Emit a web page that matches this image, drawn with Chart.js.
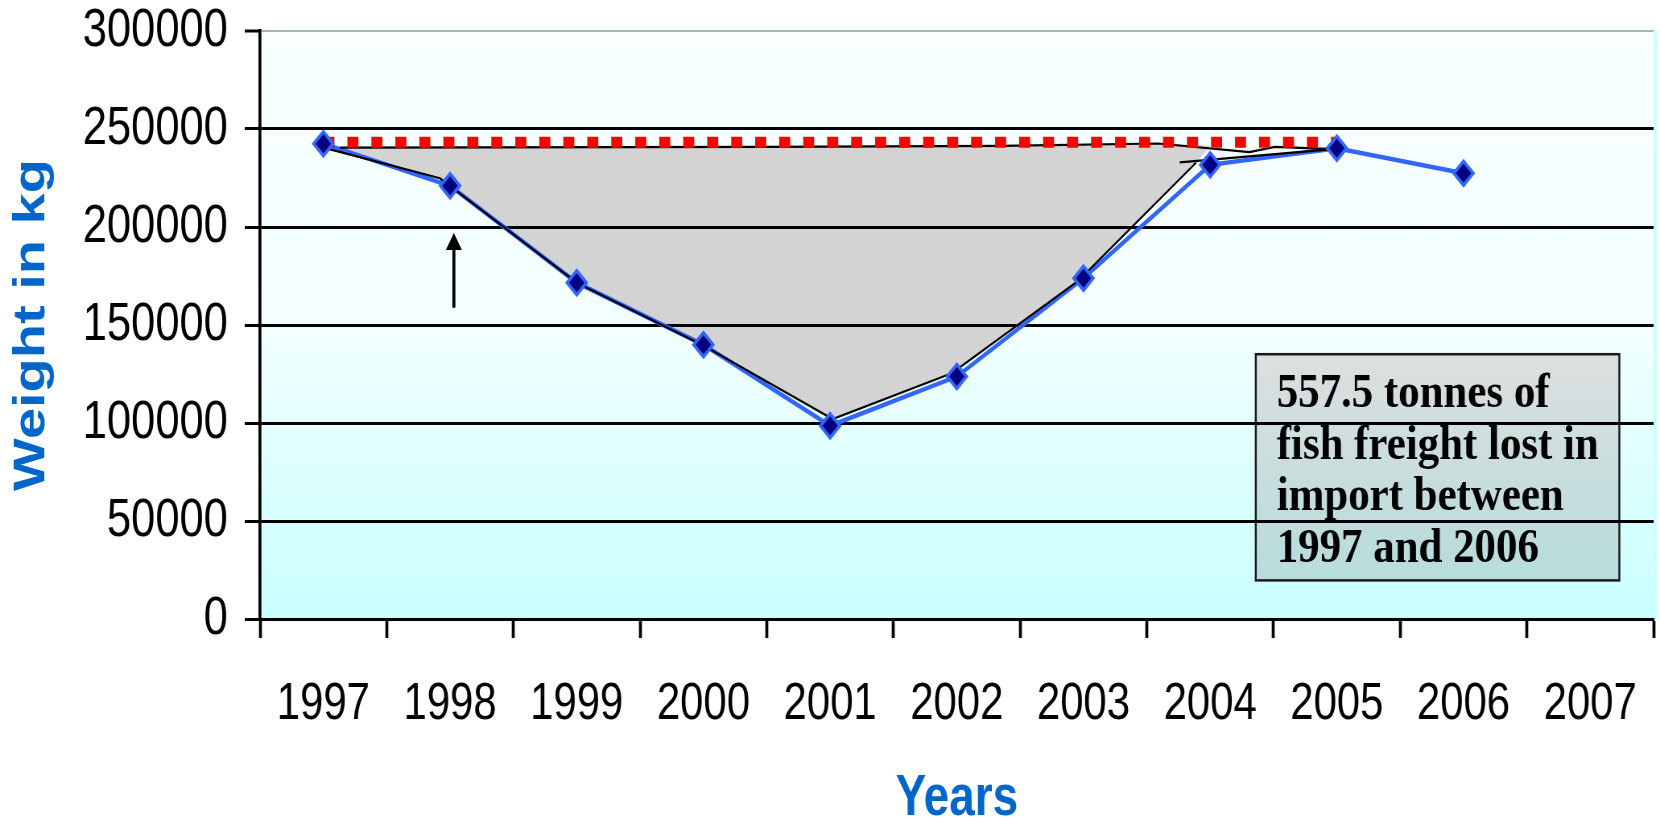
<!DOCTYPE html>
<html>
<head>
<meta charset="utf-8">
<script src="https://cdn.jsdelivr.net/npm/chart.js@4.4.0/dist/chart.umd.min.js"></script>
<style>
  html, body { margin: 0; padding: 0; background: #fff; overflow: hidden; }
  /* the original figure is horizontally compressed, so draw wide and squeeze */
  #wrap { width: 2062px; height: 819px; transform: scaleX(0.80504); transform-origin: 0 0; }
</style>
</head>
<body>
<div id="wrap"><canvas id="fishChart" width="2062" height="819"></canvas></div>
<script>
// categories and series
const years = ["1997", "1998", "1999", "2000", "2001", "2002", "2003", "2004", "2005", "2006", "2007"];
const weights = [242500, 221000, 171600, 139900, 98600, 123700, 173900, 231700, 240200, 227400];
const referenceLevel = [243200, 243200, 243200, 243200, 243200, 243200, 243200, 243200, 243200];
const yTicks = [0, 50000, 100000, 150000, 200000, 250000, 300000];

// hand drawn "lost freight" area, x in category units (0 = 1997)
const lossLowerX = [0, 0.92, 2, 3, 4.02, 4.96, 5.96, 6.89, 7.0];
const lossLowerY = [240500, 224900, 171600, 139500, 102000, 125400, 172600, 232900, 241500];
const lossUpperX = [0, 0.13, 3.5, 5.34, 6.59, 7.0];
const lossUpperY = [240500, 240500, 240900, 241400, 242600, 241500];

// black outline around the area (null = pen lifted)
const outlineX = [0, 0.92, 2, 3, 4.02, 4.96, 5.96, 6.89, 6.9, 0.13, 3.5, 5.34, 6.59, 7.31, 7.51, 7.97, 7.98, 6.76, 7.97];
const outlineY = [240500, 224900, 171600, 139500, 102000, 125400, 172600, 232900, null, 240500, 240900, 241400, 242600, 238200, 240900, 239700, null, 233000, 239700];

// note and arrow
const noteLines = ["557.5 tonnes of", "fish freight lost in", "import between", "1997 and 2006"];
const noteBox = { x0: 7.36, x1: 10.23, yTop: 135100, yBottom: 19700 };
const arrow = { x: 1.03, from: 158800, to: 197000 };

const sans = "'Liberation Sans', Arial, sans-serif";

const toPoints = (xs, ys) => xs.map((x, i) => ({ x: x, y: ys[i] }));

// plot background + note box (under the gridlines)
const notePlugin = {
    id: "note",
    beforeDraw(chart) {
        const { ctx, chartArea } = chart;
        const xs = chart.scales.x2;
        const ys = chart.scales.y;

        // paint behind what the filler already drew
        ctx.save();
        ctx.globalCompositeOperation = "destination-over";
        const bg = ctx.createLinearGradient(0, chartArea.top, 0, chartArea.bottom);
        bg.addColorStop(0, "#f9ffff");
        bg.addColorStop(0.5, "#f3ffff");
        bg.addColorStop(1, "#c9ffff");
        ctx.fillStyle = bg;
        ctx.fillRect(chartArea.left, chartArea.top - 2, chartArea.width + 4, chartArea.height + 2);
        ctx.restore();

        ctx.save();
        ctx.fillStyle = "#c9ffff";
        ctx.fillRect(chartArea.right, chartArea.top - 2, 4, chartArea.height + 2);

        const left = xs.getPixelForValue(noteBox.x0);
        const right = xs.getPixelForValue(noteBox.x1);
        const top = ys.getPixelForValue(noteBox.yTop);
        const bottom = ys.getPixelForValue(noteBox.yBottom);
        const g = ctx.createLinearGradient(0, top, 0, bottom);
        g.addColorStop(0, "#dddfdf");
        g.addColorStop(1, "#b7dcdc");
        ctx.fillStyle = g;
        ctx.fillRect(left, top, right - left, bottom - top);
        ctx.strokeStyle = "#1a1a1a";
        ctx.lineWidth = 2.5;
        ctx.strokeRect(left, top, right - left, bottom - top);

        // the note text is less compressed than the rest of the figure
        ctx.fillStyle = "#000";
        ctx.font = "bold 48px 'Liberation Serif', 'Times New Roman', serif";
        ctx.textBaseline = "alphabetic";
        ctx.translate(left + 26, top);
        ctx.scale(1.11, 1);
        noteLines.forEach((line, i) => {
            ctx.fillText(line, 0, 53 + i * 51.5);
        });
        ctx.restore();
    },
    afterDatasetsDraw(chart) {
        const { ctx } = chart;
        const ax = chart.scales.x2.getPixelForValue(arrow.x);
        const y0 = chart.scales.y.getPixelForValue(arrow.from);
        const y1 = chart.scales.y.getPixelForValue(arrow.to);
        ctx.save();
        ctx.strokeStyle = "#000";
        ctx.fillStyle = "#000";
        ctx.lineWidth = 3.7;
        ctx.beginPath();
        ctx.moveTo(ax, y0);
        ctx.lineTo(ax, y1 + 14);
        ctx.stroke();
        ctx.beginPath();
        ctx.moveTo(ax, y1);
        ctx.lineTo(ax - 10, y1 + 17);
        ctx.lineTo(ax + 10, y1 + 17);
        ctx.closePath();
        ctx.fill();
        ctx.restore();
    }
};

const ctx = document.getElementById("fishChart").getContext("2d");

new Chart(ctx, {
    type: "line",
    data: {
        labels: years,
        datasets: [
            {
                label: "Weight markers",
                data: weights,
                showLine: false,
                pointStyle: "rectRot",
                pointRadius: 12,
                pointBorderWidth: 3.5,
                pointBackgroundColor: "#000080",
                pointBorderColor: "#3366ff",
                order: 0
            },
            {
                label: "1997 level",
                data: referenceLevel,
                borderColor: "#ff0000",
                borderWidth: 11,
                borderDash: [13.7, 16.1],
                borderCapStyle: "butt",
                pointRadius: 0,
                fill: false,
                order: 1
            },
            {
                label: "Outline",
                xAxisID: "x2",
                data: toPoints(outlineX, outlineY),
                borderColor: "#000",
                borderWidth: 2.2,
                pointRadius: 0,
                spanGaps: false,
                fill: false,
                order: 2
            },
            {
                label: "Weight",
                data: weights,
                borderColor: "#3366ff",
                borderWidth: 4.5,
                pointRadius: 0,
                fill: false,
                order: 3
            },
            {
                label: "Loss lower",
                xAxisID: "x2",
                data: toPoints(lossLowerX, lossLowerY),
                borderWidth: 0,
                borderColor: "rgba(0,0,0,0)",
                pointRadius: 0,
                fill: false,
                order: 4
            },
            {
                label: "Loss upper",
                xAxisID: "x2",
                data: toPoints(lossUpperX, lossUpperY),
                borderWidth: 0,
                borderColor: "rgba(0,0,0,0)",
                backgroundColor: "#d3d3d3",
                pointRadius: 0,
                fill: 4,
                order: 5
            }
        ]
    },
    options: {
        responsive: false,
        animation: false,
        devicePixelRatio: 1,
        // no extra room for the markers, the plot fills out to the edge
        layout: { autoPadding: false, padding: { top: 31, right: 8, left: 0, bottom: 0 } },
        plugins: {
            legend: { display: false },
            tooltip: { enabled: false },
            filler: { drawTime: "beforeDraw" }
        },
        scales: {
            x: {
                type: "category",
                offset: true,
                grid: {
                    offset: true,
                    drawOnChartArea: false,
                    drawTicks: true,
                    tickLength: 19,
                    tickWidth: 3.7,
                    tickColor: "#000"
                },
                border: { display: true, color: "#000", width: 3 },
                ticks: {
                    color: "#000",
                    // tall line box pushes the labels down instead of padding
                    font: { family: sans, size: 52, lineHeight: 2.55 },
                    padding: 0,
                    maxRotation: 0,
                    autoSkip: false
                },
                title: {
                    display: true,
                    text: "Years",
                    color: "#0066cc",
                    font: { family: sans, size: 57, weight: "bold", lineHeight: 0.7 },
                    padding: { top: 0, bottom: 0 }
                },
                afterFit: (s) => { s.height = 200; s.paddingLeft = 0; s.paddingRight = 0; }
            },
            x2: { type: "linear", min: -0.5, max: 10.5, display: false },
            y: {
                min: 0,
                max: 300000,
                afterBuildTicks: (s) => { s.ticks = yTicks.map(v => ({ value: v })); },
                ticks: {
                    color: "#000",
                    font: { family: sans, size: 54 },
                    padding: 21,
                    callback: (v) => String(v)
                },
                grid: {
                    color: (c) => (c.tick && c.tick.value === 300000 ? "#9fb6b6" : "#000"),
                    lineWidth: (c) => (c.tick && c.tick.value === 300000 ? 2 : 3),
                    tickColor: "#000",
                    tickLength: 19,
                    tickWidth: 3
                },
                border: { display: true, color: "#000", width: 3.7 },
                title: {
                    display: true,
                    text: "Weight in kg",
                    color: "#0066cc",
                    font: { family: sans, size: 56, weight: "bold", lineHeight: 1.2 },
                    padding: { top: 6, bottom: 0 }
                },
                afterFit: (s) => { s.width = 323; s.paddingTop = 0; s.paddingBottom = 0; }
            }
        }
    },
    plugins: [notePlugin]
});
</script>
</body>
</html>
